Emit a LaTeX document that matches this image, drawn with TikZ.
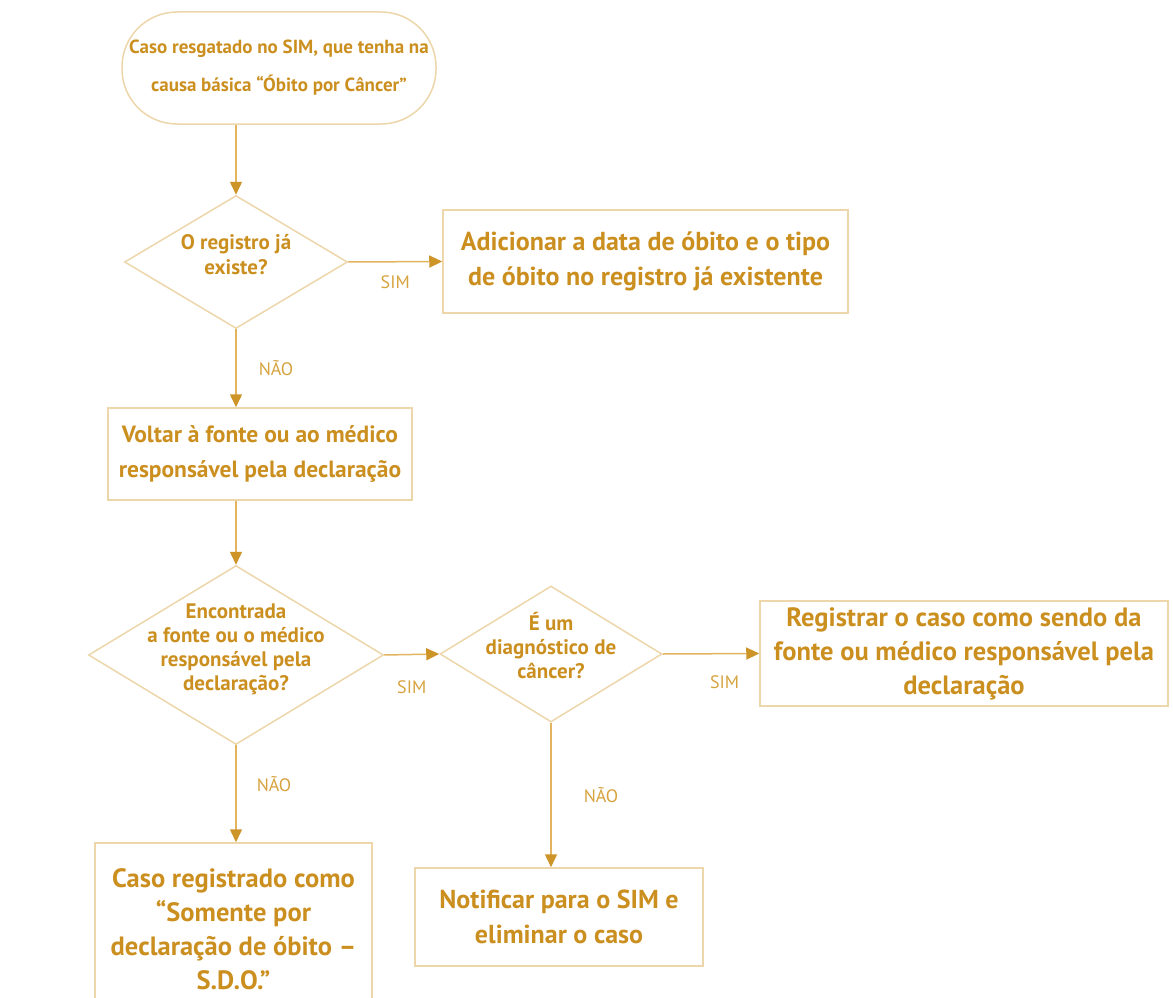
\documentclass[tikz,border=0pt]{standalone}
\usepackage{fontspec}
\setmainfont{PT Sans}
\usepackage{tikz}
\usetikzlibrary{arrows.meta,shapes.geometric,positioning}
\definecolor{goldtext}{RGB}{203,143,32}
\definecolor{goldlabel}{RGB}{214,162,62}
\definecolor{boxline}{RGB}{236,214,170}
\definecolor{flowline}{RGB}{226,180,95}
\definecolor{flowtip}{RGB}{205,148,40}

% text of a decision, kept out of the diamond's own size
\newcommand{\qtext}[1]{\smash{\makebox[0pt]{\begin{tabular}{@{}c@{}}#1\end{tabular}}}}

\tikzset{
  stepbox/.style={rectangle, draw=boxline, line width=1.5pt, text=goldtext, align=center,
    inner sep=0pt, font=\bfseries\fontsize{26}{35}\selectfont},
  startbox/.style={stepbox, rounded corners=55pt, font=\bfseries\fontsize{19}{38}\selectfont},
  question/.style={diamond, draw=boxline, line width=1.5pt, text=goldtext, inner sep=0pt,
    font=\bfseries\fontsize{21}{24}\selectfont},
  flow/.style={draw=flowline, line width=1.5pt, -{Triangle[length=13pt,width=12pt,color=flowtip]}},
  answer/.style={text=goldlabel, font=\fontsize{18}{20}\selectfont, inner sep=0pt}
}

\begin{document}
\begin{tikzpicture}[x=1pt, y=-1pt]
  \clip (0,0) rectangle (1173,998);

  % start
  \node[startbox, minimum width=314pt, minimum height=112pt] (start) at (279,68)
    {Caso resgatado no SIM, que tenha na\\causa básica “Óbito por Câncer”};

  % first question
  \node[question, minimum width=223pt, minimum height=133pt, font=\bfseries\fontsize{21}{25}\selectfont]
    (exists) at (236,262) {\qtext{O registro já\\existe?}};
  \node[stepbox, minimum width=405pt, minimum height=103pt]
    (addinfo) at (645.5,261.5) {Adicionar a data de óbito e o tipo\\de óbito no registro já existente};

  \node[stepbox, minimum width=304pt, minimum height=92pt, font=\bfseries\fontsize{23.5}{35}\selectfont]
    (back) at (260,454) {Voltar à fonte ou ao médico\\responsável pela declaração};

  % second and third question
  \node[question, minimum width=295pt, minimum height=179pt] (found) at (236,655)
    {\qtext{Encontrada\\a fonte ou o médico\\responsável pela\\declaração?}};
  \node[question, minimum width=222pt, minimum height=136pt] (cancer) at (551,654)
    {\qtext{É um\\diagnóstico de\\câncer?}};
  \node[stepbox, minimum width=408pt, minimum height=105pt, font=\bfseries\fontsize{26.5}{34}\selectfont]
    (register) at (964,653.5) {Registrar o caso como sendo da\\fonte ou médico responsável pela\\declaração};

  % ends
  \node[stepbox, minimum width=277pt, minimum height=172pt, font=\bfseries\fontsize{26.5}{34}\selectfont]
    (sdo) at (233.5,929) {Caso registrado como\\“Somente por\\declaração de óbito –\\S.D.O.”};
  \node[stepbox, minimum width=288pt, minimum height=98pt] (notify) at (559,917)
    {Notificar para o SIM e\\eliminar o caso};

  % connectors
  \draw[flow] (start.south -| exists.north) -- (exists.north);
  \draw[flow] (exists.east) -- node[answer, below=13pt] {SIM} (addinfo.west);
  \draw[flow] (exists.south) -- node[answer, right=22pt] {NÃO} (exists.south |- back.north);
  \draw[flow] (back.south -| found.north) -- (found.north);
  \draw[flow] (found.east) -- node[answer, below=25pt] {SIM} (cancer.west);
  \draw[flow] (cancer.east) -- node[answer, below=21pt, pos=0.64] {SIM} (register.west);
  \draw[flow] (found.south) -- node[answer, right=20pt, pos=0.4] {NÃO} (found.south |- sdo.north);
  \draw[flow] (cancer.south) -- node[answer, right=32pt] {NÃO} (cancer.south |- notify.north);
\end{tikzpicture}
\end{document}
